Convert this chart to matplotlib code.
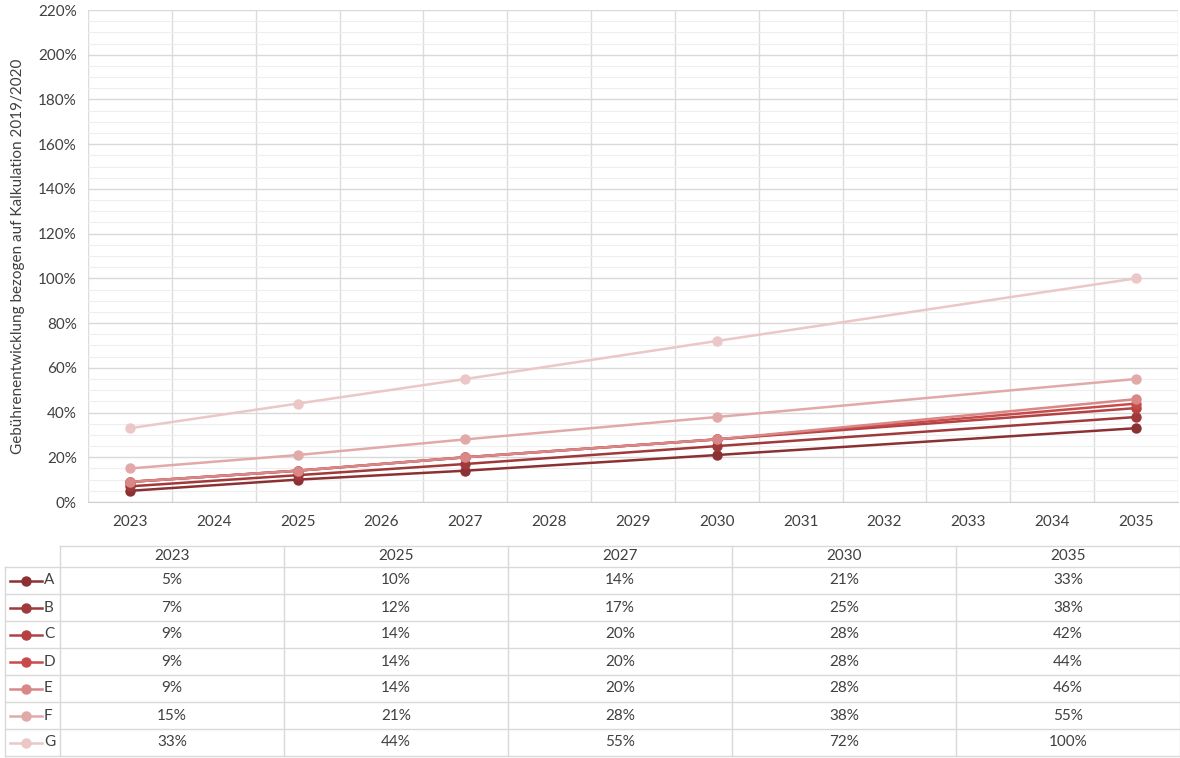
import matplotlib.pyplot as plt
from matplotlib.ticker import MultipleLocator, FuncFormatter
from matplotlib.lines import Line2D

plt.rcParams['font.family'] = ['Lato', 'DejaVu Sans']

# === Data ===
YEARS = [2023, 2025, 2027, 2030, 2035]
SERIES = ["A", "B", "C", "D", "E", "F", "G"]
A = [5, 10, 14, 21, 33]
B = [7, 12, 17, 25, 38]
C = [9, 14, 20, 28, 42]
D = [9, 14, 20, 28, 44]
E = [9, 14, 20, 28, 46]
F = [15, 21, 28, 38, 55]
G = [33, 44, 55, 72, 100]
VALUES = [A, B, C, D, E, F, G]
COLORS = ["#8c3133", "#a0393a", "#b44243", "#c84b4b", "#d98787", "#e2a9a9", "#ebc7c7"]
YLABEL = "Gebührenentwicklung bezogen auf Kalkulation 2019/2020"

FS = 11
TXT = "#404040"
W, H = 1180, 758
fig = plt.figure(figsize=(W / 100, H / 100), dpi=100)

# === Line chart ===
ax = fig.add_axes([88 / W, 1 - 502 / H, 1090 / W, 492 / H])
for vals, col in zip(VALUES, COLORS):
    ax.plot(YEARS, vals, color=col, lw=1.8, marker="o", ms=6.5, zorder=3)

ax.set_xlim(2022.5, 2035.5)
ax.set_ylim(0, 220)
ax.set_xticks(range(2023, 2036))
ax.set_xticks([x + 0.5 for x in range(2022, 2036)], minor=True)
ax.yaxis.set_major_locator(MultipleLocator(20))
ax.yaxis.set_minor_locator(MultipleLocator(5))
ax.yaxis.set_major_formatter(FuncFormatter(lambda v, p: f"{v:.0f}%"))
ax.tick_params(axis="both", which="both", length=0, labelsize=FS, colors=TXT)
ax.tick_params(axis="x", pad=9)
ax.tick_params(axis="y", pad=8)

ax.grid(axis="y", which="major", color="#d9d9d9", lw=1.0)
ax.grid(axis="y", which="minor", color="#eeeeee", lw=0.8)
ax.grid(axis="x", which="minor", color="#dcdcdc", lw=1.0)
ax.grid(axis="x", which="major", visible=False)
ax.set_axisbelow(True)
for side in ["top", "right", "left"]:
    ax.spines[side].set_visible(False)
ax.spines["bottom"].set_color("#d0d0d0")

fig.text(18 / W, 1 - 256 / H, YLABEL, rotation=90, ha="center", va="center",
         fontsize=FS, color=TXT)

# === Data table below ===
tb = fig.add_axes([0, 0, 1, 1])
tb.set_xlim(0, W)
tb.set_ylim(H, 0)
tb.axis("off")

grid_col = "#d9d9d9"
x_left, x_data, col_w = 5, 60, 224
y_head, head_h, row_h = 546, 21, 27
y_body = y_head + head_h
y_end = y_body + row_h * len(SERIES)
x_end = x_data + col_w * len(YEARS)

# horizontal rules
tb.plot([x_data, x_end], [y_head, y_head], color=grid_col, lw=1)
for i in range(len(SERIES) + 1):
    y = y_body + i * row_h
    tb.plot([x_left, x_end], [y, y], color=grid_col, lw=1)
# vertical rules
tb.plot([x_left, x_left], [y_body, y_end], color=grid_col, lw=1)
for j in range(len(YEARS) + 1):
    x = x_data + j * col_w
    tb.plot([x, x], [y_head, y_end], color=grid_col, lw=1)

for j, yr in enumerate(YEARS):
    tb.text(x_data + (j + 0.5) * col_w, y_head + head_h / 2, str(yr),
            ha="center", va="center", fontsize=FS, color=TXT)

for i, (name, vals, col) in enumerate(zip(SERIES, VALUES, COLORS)):
    yc = y_body + (i + 0.5) * row_h
    tb.add_line(Line2D([10, 26, 42], [yc, yc, yc], color=col, lw=1.8,
                       marker="o", markevery=[1], ms=6.5))
    tb.text(44, yc, name, ha="left", va="center", fontsize=FS, color=TXT)
    for j, v in enumerate(vals):
        tb.text(x_data + (j + 0.5) * col_w, yc, f"{v}%",
                ha="center", va="center", fontsize=FS, color=TXT)

fig.savefig("out.png", dpi=100)
